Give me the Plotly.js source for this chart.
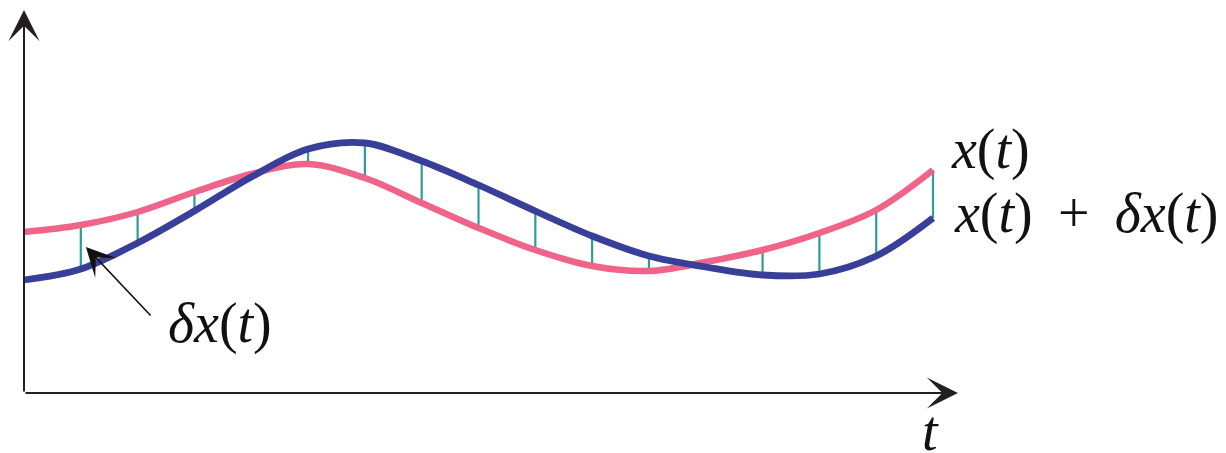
<!DOCTYPE html>
<html>
<head>
<meta charset="utf-8">
<script src="https://cdn.plot.ly/plotly-3.0.1.min.js"></script>
<style>html,body{margin:0;padding:0;background:#fff;}#chart{width:1226px;height:453px;}</style>
</head>
<body>
<div id="chart"></div>
<script>
// time samples (arbitrary units)
const t = [0, 1, 2, 3, 4, 5, 6, 7, 8, 9, 10, 11, 12, 13, 14, 15, 16];
// x(t) – pink curve
const xt = [160, 167, 180, 200, 218, 228, 214, 189, 164, 142, 126, 121, 130, 142, 159, 182, 222];
// x(t) + δx(t) – blue curve
const xpdx = [112, 123, 149, 181, 215, 243, 249, 231, 207, 181, 156, 136, 125, 117, 118, 136, 174];
// indices where δx(t) segments are drawn
const segIdx = [1, 2, 3, 4, 5, 6, 7, 8, 9, 10, 11, 12, 13, 14, 15, 16];
// labels
const labelX = '<i>x</i>(<i>t</i>)';
const labelXdX = '<i>x</i>(<i>t</i>)&nbsp;\u2009+\u2009&nbsp;<i>δx</i>(<i>t</i>)';
const labelDX = '<i>δx</i>(<i>t</i>)';
const labelT = '<i>t</i>';

const segX = [], segY = [];
segIdx.forEach(i => { segX.push(t[i], t[i], null); segY.push(xt[i], xpdx[i], null); });

const font = {family: 'Liberation Serif', size: 56, color: '#111'};

const traces = [
  {x: segX, y: segY, mode: 'lines', line: {color: '#2E9C98', width: 2.2}, hoverinfo: 'skip', showlegend: false},
  {x: t, y: xt, mode: 'lines', line: {color: '#F0648A', width: 6.5, shape: 'spline', smoothing: 1}, showlegend: false},
  {x: t, y: xpdx, mode: 'lines', line: {color: '#383F98', width: 6.8, shape: 'spline', smoothing: 1}, showlegend: false}
];

const axisCol = '#231F20';
const layout = {
  width: 1226, height: 453,
  margin: {l: 0, r: 0, t: 0, b: 0},
  paper_bgcolor: '#fff', plot_bgcolor: '#fff',
  xaxis: {range: [-0.4224, 21.157], visible: false, fixedrange: true},
  yaxis: {range: [-61, 392], visible: false, fixedrange: true},
  showlegend: false,
  annotations: [
    // x axis arrow
    {x: 16.44, y: -1, ax: 0, ay: -1, axref: 'x', ayref: 'y', xref: 'x', yref: 'y', text: '', showarrow: true,
     arrowhead: 3, arrowsize: 2.6, arrowwidth: 2, arrowcolor: axisCol, standoff: 0, startstandoff: 0},
    // y axis arrow
    {x: 0, y: 382, ax: 0, ay: -1, axref: 'x', ayref: 'y', xref: 'x', yref: 'y', text: '', showarrow: true,
     arrowhead: 3, arrowsize: 2.6, arrowwidth: 2, arrowcolor: axisCol, standoff: 0, startstandoff: 0},
    // delta x pointer arrow
    {x: 1.09, y: 145, ax: 2.253, ay: 75, axref: 'x', ayref: 'y', xref: 'x', yref: 'y', text: '', showarrow: true,
     arrowhead: 3, arrowsize: 3.0, arrowwidth: 1.6, arrowcolor: '#111', standoff: 0, startstandoff: 0},
    {x: 16.28, y: 243, xref: 'x', yref: 'y', text: labelX, showarrow: false, xanchor: 'left', yanchor: 'middle', font: font},
    {x: 16.33, y: 179, xref: 'x', yref: 'y', text: labelXdX, showarrow: false, xanchor: 'left', yanchor: 'middle', font: font},
    {x: 2.50, y: 69, xref: 'x', yref: 'y', text: labelDX, showarrow: false, xanchor: 'left', yanchor: 'middle', font: font},
    {x: 15.95, y: -39, xref: 'x', yref: 'y', text: labelT, showarrow: false, xanchor: 'center', yanchor: 'middle', font: font}
  ]
};

Plotly.newPlot('chart', traces, layout, {displayModeBar: false, staticPlot: true});
</script>
</body>
</html>
